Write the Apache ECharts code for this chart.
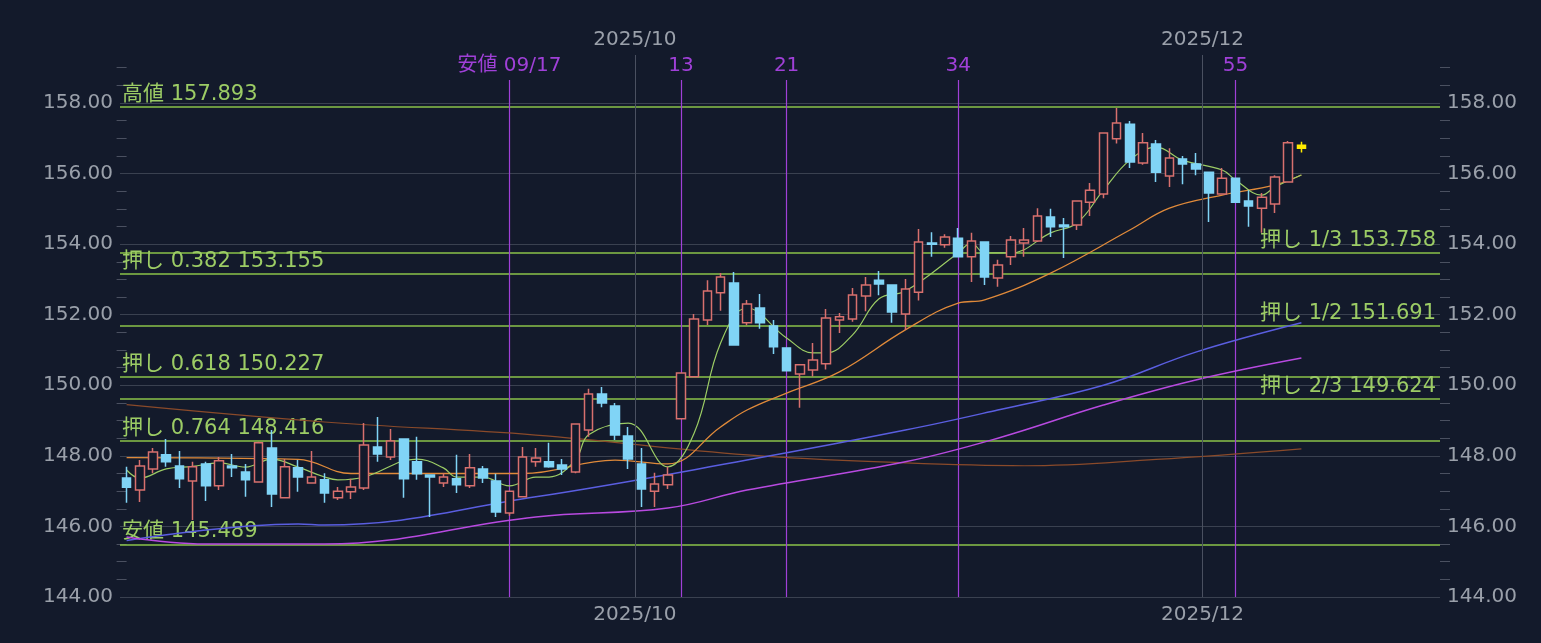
<!DOCTYPE html>
<html>
<head>
<meta charset="utf-8">
<script src="https://cdn.jsdelivr.net/npm/echarts@6/dist/echarts.min.js"></script>
<style>
  html, body { margin: 0; padding: 0; background: #131a2b; }
  #main { width: 1541px; height: 643px; }
</style>
</head>
<body>
<div id="main"></div>
<script>
// 日足 OHLC (2025/08/07 から)
const opens = [147.37,147.03,147.63,148.03,147.71,147.29,147.77,147.15,147.71,147.54,147.26,148.22,146.81,147.66,147.23,147.32,146.81,146.98,147.09,148.25,147.97,148.48,147.83,147.46,147.23,147.35,147.15,147.63,147.29,146.38,146.84,147.83,147.83,147.74,147.54,148.73,149.75,149.41,148.56,147.77,147.00,147.18,149.05,150.24,151.85,152.62,152.90,151.77,152.19,151.68,151.06,150.32,150.43,150.61,151.85,151.88,152.53,152.98,152.84,152.02,152.64,154.03,153.98,154.17,153.64,154.06,153.04,153.64,154.03,154.09,154.77,154.54,154.54,155.19,155.42,156.99,157.40,156.30,156.84,155.93,156.41,156.27,156.04,155.42,155.87,155.22,155.02,155.14,155.76,156.80];
const closes = [147.11,147.71,148.11,147.83,147.35,147.69,147.15,147.86,147.66,147.32,148.37,146.92,147.69,147.40,147.40,146.95,147.00,147.12,148.31,148.05,148.42,147.35,147.49,147.40,147.40,147.18,147.66,147.37,146.41,147.00,147.97,147.94,147.69,147.63,148.90,149.75,149.50,148.59,147.91,147.06,147.20,147.46,150.35,151.88,152.67,153.07,151.14,152.30,151.77,151.09,150.41,150.58,150.72,151.91,151.94,152.56,152.84,152.87,152.08,152.73,154.06,154.00,154.20,153.64,154.09,153.07,153.41,154.12,154.12,154.80,154.49,154.49,155.22,155.53,157.15,157.43,156.33,156.87,156.04,156.44,156.27,156.13,155.45,155.87,155.19,155.08,155.33,155.90,156.87,156.72];
const lows = [146.67,146.69,147.51,147.69,147.09,146.18,146.72,147.03,147.40,146.84,147.26,146.55,146.81,146.98,147.23,146.67,146.75,146.78,147.03,147.83,147.88,146.81,147.32,146.27,147.12,146.95,147.09,147.23,146.27,146.30,146.84,147.69,147.66,147.46,147.51,148.54,149.38,148.45,147.63,146.55,146.55,147.06,149.05,150.24,151.71,152.11,151.14,151.70,151.60,150.89,150.41,149.36,150.25,150.45,151.48,151.80,152.10,152.55,151.77,151.57,152.40,153.64,153.90,153.64,152.93,152.84,152.79,153.41,153.64,154.06,154.20,153.61,154.40,154.80,155.30,156.85,156.16,156.25,155.76,155.62,155.70,155.95,154.63,155.40,155.19,154.49,154.32,154.88,155.76,156.60];
const highs = [147.69,147.88,148.22,148.48,148.14,147.83,147.83,147.97,148.05,147.77,148.40,148.73,147.91,147.88,148.14,147.51,147.12,147.35,148.93,149.10,148.76,148.48,148.54,147.46,147.51,148.03,148.05,147.71,147.49,147.00,148.25,148.22,148.37,147.91,148.90,149.90,149.95,149.50,148.82,148.22,147.52,147.69,150.35,152.02,152.98,153.18,153.21,152.42,152.59,151.85,151.06,150.58,151.20,152.16,152.05,152.76,153.07,153.24,152.84,153.01,154.43,154.34,154.28,154.46,154.32,154.06,153.56,154.23,154.46,155.02,155.00,154.74,155.22,155.73,157.15,157.86,157.49,157.15,156.95,156.72,156.50,156.58,156.04,156.16,155.87,155.53,155.45,155.95,156.92,156.90];

// 移動平均線 [足番号, 値]
const maShort = [[0,147.6],[1,147.37],[3,147.63],[5,147.7],[7,147.8],[9,147.68],[11,147.91],[13,147.68],[15,147.4],[16,147.32],[18,147.4],[22,147.91],[24,147.66],[25,147.4],[27,147.4],[29,147.15],[31,147.4],[32,147.4],[34,147.88],[35,148.6],[38,148.93],[41,147.69],[43,148.65],[45,151.2],[47,152.19],[50,151.34],[52,150.92],[53,150.92],[55,151.43],[57,152.45],[59,152.67],[63,153.75],[64,154.03],[65,153.75],[67,153.75],[70,154.32],[72,154.6],[74,155.53],[76,156.38],[78,156.75],[80,156.38],[83,156.1],[84,155.82],[86,155.39],[87,155.62],[89,155.96]];
const maMid = [[0,147.95],[13,147.9],[17,147.5],[30,147.5],[37,147.88],[41,147.77],[45,148.82],[47,149.3],[50,149.78],[54,150.38],[59,151.57],[63,152.33],[65,152.42],[70,153.18],[76,154.40],[79,155.02],[83,155.39],[87,155.68],[89,155.96]];
const maLong1 = [[0,145.6],[13,146.07],[15,146.04],[31,146.84],[47,147.88],[59,148.73],[66,149.3],[74,150.0],[81,150.94],[89,151.77]];
const maLong2 = [[0,145.7],[6,145.5],[15,145.5],[31,146.27],[41,146.52],[47,147.03],[59,147.83],[66,148.5],[74,149.44],[81,150.15],[89,150.77]];
const maLong3 = [[0,149.45],[15,148.96],[31,148.59],[47,148.03],[59,147.8],[68,147.72],[78,147.9],[89,148.2]];

// 水平線
const leftLevels = [['高値', 157.893], ['押し 0.382', 153.155], ['押し 0.618', 150.227], ['押し 0.764', 148.416], ['安値', 145.489]];
const rightLevels = [['押し 1/3', 153.758], ['押し 1/2', 151.691], ['押し 2/3', 149.624]];
// フィボナッチ日柄 [足番号, ラベル]
const fibDays = [[29, '安値 09/17'], [42, '13'], [50, '21'], [63, '34'], [84, '55']];
const monthLines = [39, 82];
const priceTicks = [144, 146, 148, 150, 152, 154, 156, 158];

// 営業日の日付
const dates = [];
let d = new Date(2025, 7, 7);
while (dates.length < 100) {
  const w = d.getDay();
  if (w !== 0 && w !== 6) {
    dates.push(d.getFullYear() + '/' + String(d.getMonth() + 1).padStart(2, '0') + '/' + String(d.getDate()).padStart(2, '0'));
  }
  d.setDate(d.getDate() + 1);
}

const BG = '#131a2b';
const TXT = '#9aa0aa';
const GREEN = '#8bc34a';
const PURPLE = '#a040d8';
const YMAX = 159.36;
const FONT = '"DejaVu Sans", "Noto Sans CJK JP", sans-serif';

const candles = opens.map((o, i) => {
  const item = { value: [o, closes[i], lows[i], highs[i]] };
  if (i === opens.length - 1) {
    item.itemStyle = { color: '#ffeb00', color0: '#ffeb00', borderColor: '#ffeb00', borderColor0: '#ffeb00' };
  }
  return item;
});

const isMonthStart = (i) => monthLines.indexOf(i) >= 0;

const levelLines = priceTicks.map(v => ({
  yAxis: v, lineStyle: { color: '#3a4150', width: 1 }, label: { show: false }
})).concat(leftLevels.map(l => ({
  yAxis: l[1],
  label: { formatter: l[0] + ' ' + l[1].toFixed(3), position: 'insideStartTop', distance: [2, 2] }
}))).concat(rightLevels.map(l => ({
  yAxis: l[1],
  label: { formatter: l[0] + ' ' + l[1].toFixed(3), position: 'insideEndTop', distance: [4, 2] }
})));

const vLines = fibDays.map(f => [
  { coord: [f[0], 158.65], lineStyle: { color: PURPLE, width: 1.2 }, label: { show: true, formatter: f[1], position: 'start', color: PURPLE, fontSize: 20, distance: 4 } },
  { coord: [f[0], 144] }
]);

// 月初の境界線 (足の左端)
const monthBoundaries = monthLines.map(i => [
  { coord: [i - 0.5, YMAX] },
  { coord: [i - 0.5, 144] }
]);

const chart = echarts.init(document.getElementById('main'));
const yAxisBase = {
  type: 'value', min: 144, max: YMAX, interval: 2,
  axisLine: { show: false },
  axisTick: { show: false },
  minorTick: { show: true, splitNumber: 4, length: 10, lineStyle: { color: '#4a5060' } },
  axisLabel: { color: TXT, fontSize: 20, fontFamily: FONT, showMaxLabel: false, margin: 7, formatter: v => v.toFixed(2) },
  splitLine: { show: false },
  minorSplitLine: { show: false }
};
const xAxisBase = {
  type: 'category', data: dates, boundaryGap: true,
  axisLine: { show: false }, axisTick: { show: false },
  splitLine: { show: false }
};
const monthLabel = (margin) => ({
  color: TXT, fontSize: 20, fontFamily: FONT, margin: margin,
  interval: (i) => isMonthStart(i), formatter: v => v.slice(0, 7),
  padding: [0, 13, 0, 0]
});

chart.setOption({
  backgroundColor: BG,
  animation: false,
  textStyle: { fontFamily: FONT },
  grid: { left: 120, right: 101, top: 55, bottom: 46, show: false },
  xAxis: [
    Object.assign({}, xAxisBase, { position: 'bottom', axisLabel: monthLabel(8) }),
    Object.assign({}, xAxisBase, { position: 'top', axisLabel: monthLabel(5) }),
    { type: 'value', min: -0.5, max: dates.length - 0.5, show: false }
  ],
  yAxis: [
    Object.assign({}, yAxisBase, { position: 'left' }),
    Object.assign({}, yAxisBase, { position: 'right' })
  ],
  series: [
    {
      type: 'line', xAxisIndex: 2, data: [], symbol: 'none',
      markLine: {
        symbol: 'none', silent: true, animation: false,
        lineStyle: { color: '#4a5060', width: 1, type: 'solid' },
        label: { show: false },
        data: monthBoundaries
      }
    },
    { type: 'line', data: maLong3, smooth: 0.4, symbol: 'none', lineStyle: { color: '#8a4a2a', width: 1.2 } },
    { type: 'line', data: maLong1, smooth: 0.4, symbol: 'none', lineStyle: { color: '#5a5ee0', width: 1.5 } },
    { type: 'line', data: maLong2, smooth: 0.4, symbol: 'none', lineStyle: { color: '#b84ae0', width: 1.5 } },
    { type: 'line', data: maMid, smooth: 0.4, symbol: 'none', lineStyle: { color: '#e08a3a', width: 1.3 } },
    { type: 'line', data: maShort, smooth: 0.4, symbol: 'none', lineStyle: { color: '#9ccc65', width: 1.2 } },
    {
      type: 'candlestick', data: candles, barWidth: 9, z: 5,
      itemStyle: { color: BG, color0: '#80d4f6', borderColor: '#d8706e', borderColor0: '#80d4f6', borderWidth: 1.5 },
      markLine: {
        symbol: 'none', silent: true, animation: false, z: 1,
        lineStyle: { color: GREEN, width: 1.5, type: 'solid' },
        label: { color: '#9ccc65', fontSize: 21, fontFamily: FONT },
        data: levelLines.concat(vLines)
      }
    }
  ]
});
</script>
</body>
</html>
